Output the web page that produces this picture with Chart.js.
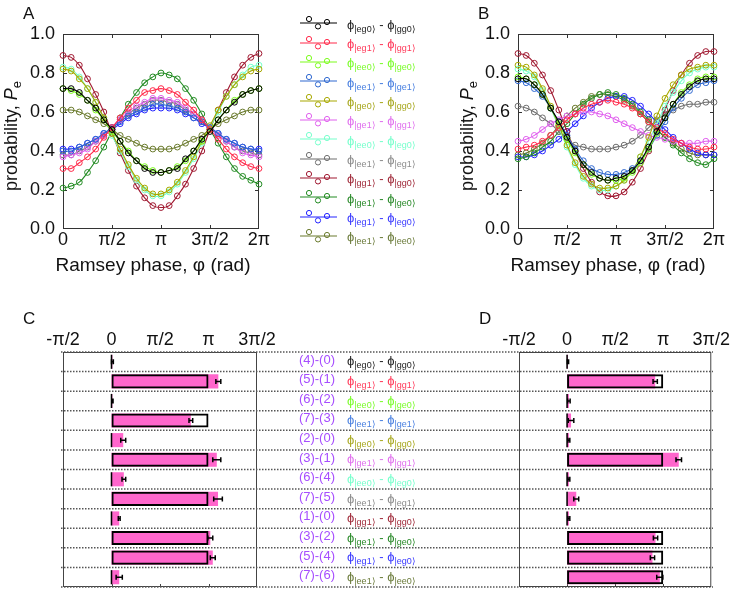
<!DOCTYPE html>
<html>
<head>
<meta charset="utf-8">
<script src="https://cdn.jsdelivr.net/npm/chart.js@4.4.1/dist/chart.umd.min.js"></script>
<style>
  body { margin: 0; background: #fff; }
  #fig { position: relative; width: 731px; height: 592px; overflow: hidden;
         font-family: "Liberation Sans", Arial, Helvetica, sans-serif; color: #111; }
  #fig canvas, .t { position: absolute; }
  .t { line-height: 1; white-space: nowrap; }
  .panel { font-size: 17px; }
  .ttl { font-size: 19px; transform: translateX(-50%); }
  .ytl { font-size: 18px; transform: translate(-50%, -50%) rotate(-90deg); }
  .ytl sub { font-size: 13px; vertical-align: -4px; line-height: 0; }
  .ph { font-size: 13px; }
  .ph sub { font-size: 9px; vertical-align: -3px; line-height: 0; }
  .rid { font-size: 13px; color: #a64dff; transform: translateX(-100%); }
</style>
</head>
<body>
<div id="fig">
  <canvas id="chartC" width="731" height="292" style="left:0;top:300px"></canvas>
  <canvas id="chartD" width="261" height="292" style="left:470px;top:300px"></canvas>
  <canvas id="chartA" width="280" height="290" style="left:0;top:0"></canvas>
  <canvas id="chartB" width="291" height="290" style="left:440px;top:0"></canvas>

  <div class="t panel" style="left:23px;top:5px">A</div>
  <div class="t panel" style="left:478px;top:5px">B</div>
  <div class="t panel" style="left:23px;top:310px">C</div>
  <div class="t panel" style="left:479px;top:310px">D</div>

  <div class="t ttl" style="left:153px;top:255px">Ramsey phase, φ (rad)</div>
  <div class="t ttl" style="left:608px;top:255px">Ramsey phase, φ (rad)</div>
  <div class="t ytl" style="left:11px;top:136px">probability, <i>P</i><sub>e</sub></div>
  <div class="t ytl" style="left:467px;top:136px">probability, <i>P</i><sub>e</sub></div>
</div>

<script>
Chart.defaults.font.family = '"Liberation Sans", Arial, Helvetica, sans-serif';
Chart.defaults.color = '#111';
Chart.defaults.animation = false;

const PI = Math.PI;
const phaseStep = PI / 12;   // Ramsey phase sampled every 15 degrees, 0..2pi

const xTickValues = [0, PI / 2, PI, 3 * PI / 2, 2 * PI];
const xTickLabels = ['0', 'π/2', 'π', '3π/2', '2π'];
const yTickValues = [0, 0.2, 0.4, 0.6, 0.8, 1.0];
const yTickLabels = ['0.0', '0.2', '0.4', '0.6', '0.8', '1.0'];
const barTickValues = [-PI / 2, 0, PI / 2, PI, 3 * PI / 2];
const barTickLabels = ['-π/2', '0', 'π/2', 'π', '3π/2'];

const rowIds = ['(4)-(0)', '(5)-(1)', '(6)-(2)', '(7)-(3)', '(2)-(0)', '(3)-(1)',
                '(6)-(4)', '(7)-(5)', '(1)-(0)', '(3)-(2)', '(5)-(4)', '(7)-(6)'];
const rowPairs = [['eg0', 'gg0'], ['eg1', 'gg1'], ['ee0', 'ge0'], ['ee1', 'ge1'],
                  ['ge0', 'gg0'], ['ge1', 'gg1'], ['ee0', 'eg0'], ['ee1', 'eg1'],
                  ['gg1', 'gg0'], ['ge1', 'ge0'], ['eg1', 'eg0'], ['ee1', 'ee0']];
const lineColors = ['#000000', '#ff2a4a', '#7cfc1c', '#2f68d0', '#a8a800', '#e060ee',
                    '#77ffcc', '#6e6e6e', '#a01830', '#228b22', '#2424ff', '#6b7b2e'];
const textColors = ['#222222', '#ff3a5a', '#7cfc2c', '#4a80e0', '#a8a820', '#e070ee',
                    '#77ffcc', '#8c8c8c', '#a02a3a', '#2a8a2a', '#3a3aff', '#6b7b3a'];

// panel A, excited-state probability vs Ramsey phase
const A_eg0_gg0 = [0.72,0.72,0.70,0.66,0.62,0.56,0.51,0.45,0.39,0.35,0.31,0.29,0.29,0.30,0.31,0.36,0.40,0.46,0.50,0.56,0.61,0.65,0.69,0.71,0.72];
const A_eg1_gg1 = [0.31,0.31,0.34,0.37,0.41,0.47,0.52,0.57,0.62,0.66,0.70,0.71,0.72,0.71,0.69,0.65,0.61,0.56,0.51,0.46,0.41,0.37,0.34,0.32,0.31];
const A_ee0_ge0 = [0.72,0.71,0.69,0.66,0.61,0.56,0.50,0.45,0.40,0.35,0.32,0.30,0.29,0.30,0.32,0.35,0.40,0.45,0.51,0.56,0.61,0.66,0.69,0.71,0.72];
const A_ee1_ge1 = [0.40,0.40,0.42,0.44,0.46,0.49,0.52,0.55,0.58,0.60,0.62,0.64,0.64,0.63,0.62,0.60,0.57,0.55,0.52,0.49,0.46,0.44,0.42,0.41,0.40];
const A_ge0_gg0 = [0.82,0.81,0.77,0.72,0.65,0.57,0.49,0.41,0.33,0.26,0.21,0.18,0.18,0.20,0.24,0.30,0.37,0.45,0.53,0.61,0.68,0.74,0.78,0.81,0.82];
const A_ge1_gg1 = [0.37,0.38,0.39,0.41,0.45,0.48,0.52,0.56,0.60,0.63,0.65,0.67,0.67,0.66,0.65,0.62,0.59,0.56,0.52,0.48,0.45,0.42,0.39,0.38,0.37];
const A_ee0_eg0 = [0.83,0.82,0.78,0.72,0.65,0.57,0.48,0.40,0.32,0.25,0.20,0.17,0.17,0.19,0.23,0.29,0.36,0.44,0.52,0.60,0.68,0.74,0.79,0.83,0.84];
const A_ee1_eg1 = [0.38,0.38,0.40,0.42,0.45,0.48,0.52,0.56,0.59,0.62,0.64,0.66,0.66,0.65,0.64,0.61,0.59,0.55,0.52,0.48,0.45,0.42,0.40,0.39,0.38];
const A_gg1_gg0 = [0.89,0.88,0.84,0.77,0.69,0.60,0.49,0.39,0.30,0.22,0.16,0.12,0.11,0.12,0.17,0.23,0.31,0.40,0.51,0.61,0.70,0.78,0.84,0.88,0.90];
const A_ge1_ge0 = [0.21,0.22,0.24,0.29,0.35,0.42,0.50,0.57,0.64,0.70,0.75,0.78,0.80,0.79,0.77,0.72,0.66,0.59,0.51,0.44,0.37,0.31,0.27,0.25,0.23];
const A_eg1_eg0 = [0.41,0.41,0.42,0.44,0.46,0.49,0.51,0.54,0.57,0.59,0.61,0.62,0.62,0.62,0.61,0.59,0.57,0.54,0.52,0.49,0.46,0.44,0.42,0.41,0.41];
const A_ee1_ee0 = [0.61,0.61,0.60,0.58,0.56,0.54,0.51,0.48,0.46,0.44,0.42,0.41,0.41,0.41,0.42,0.44,0.46,0.48,0.51,0.54,0.56,0.58,0.60,0.61,0.61];

// panel B
const B_eg0_gg0 = [0.77,0.77,0.74,0.69,0.62,0.55,0.47,0.40,0.33,0.29,0.26,0.25,0.26,0.27,0.30,0.35,0.42,0.50,0.57,0.64,0.69,0.73,0.76,0.77,0.77];
const B_eg1_gg1 = [0.41,0.42,0.43,0.45,0.48,0.52,0.56,0.59,0.62,0.64,0.65,0.66,0.65,0.64,0.62,0.59,0.55,0.52,0.49,0.46,0.44,0.42,0.41,0.41,0.42];
const B_ee0_ge0 = [0.78,0.77,0.74,0.69,0.62,0.54,0.46,0.39,0.33,0.28,0.26,0.25,0.25,0.26,0.29,0.34,0.41,0.49,0.57,0.64,0.70,0.74,0.77,0.78,0.78];
const B_ee1_ge1 = [0.76,0.75,0.72,0.68,0.62,0.55,0.48,0.41,0.35,0.31,0.29,0.28,0.28,0.29,0.31,0.35,0.41,0.48,0.55,0.62,0.67,0.71,0.74,0.75,0.76];
const B_ge0_gg0 = [0.84,0.83,0.79,0.72,0.63,0.53,0.43,0.34,0.27,0.23,0.21,0.21,0.22,0.25,0.30,0.37,0.47,0.58,0.67,0.74,0.79,0.82,0.83,0.84,0.84];
const B_ge1_gg1 = [0.45,0.46,0.48,0.51,0.54,0.56,0.58,0.59,0.60,0.60,0.59,0.58,0.56,0.54,0.52,0.50,0.48,0.47,0.46,0.45,0.44,0.44,0.44,0.45,0.45];
const B_ee0_eg0 = [0.82,0.81,0.78,0.71,0.62,0.52,0.42,0.33,0.26,0.22,0.20,0.20,0.22,0.25,0.30,0.37,0.45,0.54,0.63,0.70,0.76,0.80,0.82,0.83,0.83];
const B_ee1_eg1 = [0.63,0.62,0.60,0.57,0.54,0.50,0.46,0.43,0.42,0.41,0.41,0.41,0.42,0.43,0.45,0.48,0.52,0.56,0.59,0.61,0.63,0.64,0.64,0.65,0.65];
const B_gg1_gg0 = [0.90,0.89,0.85,0.79,0.71,0.61,0.50,0.40,0.31,0.24,0.19,0.17,0.17,0.19,0.24,0.31,0.40,0.50,0.61,0.71,0.79,0.85,0.89,0.91,0.91];
const B_ge1_ge0 = [0.36,0.37,0.39,0.42,0.45,0.50,0.54,0.59,0.64,0.67,0.69,0.70,0.69,0.67,0.64,0.60,0.56,0.51,0.47,0.43,0.39,0.36,0.34,0.33,0.36];
const B_eg1_eg0 = [0.37,0.37,0.38,0.40,0.43,0.46,0.50,0.54,0.58,0.62,0.65,0.67,0.68,0.68,0.66,0.63,0.59,0.55,0.51,0.47,0.44,0.41,0.39,0.38,0.38];
const B_ee1_ee0 = [0.38,0.39,0.41,0.44,0.48,0.53,0.58,0.62,0.65,0.68,0.69,0.69,0.68,0.66,0.63,0.59,0.55,0.51,0.47,0.44,0.41,0.39,0.38,0.38,0.38];

const curvesA = [A_eg0_gg0, A_eg1_gg1, A_ee0_ge0, A_ee1_ge1, A_ge0_gg0, A_ge1_gg1,
                 A_ee0_eg0, A_ee1_eg1, A_gg1_gg0, A_ge1_ge0, A_eg1_eg0, A_ee1_ee0];
const curvesB = [B_eg0_gg0, B_eg1_gg1, B_ee0_ge0, B_ee1_ge1, B_ge0_gg0, B_ge1_gg1,
                 B_ee0_eg0, B_ee1_eg1, B_gg1_gg0, B_ge1_ge0, B_eg1_eg0, B_ee1_ee0];

// panels C and D: measured phase differences (rad), errors, expected value
const phaseC = [0.03, 3.46, 0.03, 2.57, 0.38, 3.41, 0.40, 3.45, 0.25, 3.20, 3.28, 0.25];
const errC   = [0.03, 0.08, 0.02, 0.06, 0.08, 0.13, 0.06, 0.14, 0.03, 0.08, 0.08, 0.10];
const theoryC = [0, PI, 0, PI, 0, PI, 0, PI, 0, PI, PI, 0];
const phaseD = [0.03, 2.88, 0.06, 0.13, 0.06, 3.65, 0.06, 0.30, 0.06, 2.89, 2.79, 3.03];
const errD   = [0.02, 0.07, 0.04, 0.09, 0.03, 0.09, 0.03, 0.08, 0.03, 0.07, 0.07, 0.10];
const theoryD = [0, PI, 0, 0, 0, PI, 0, 0, 0, PI, PI, PI];

// box + inward tick marks
const framePlugin = {
  id: 'frame',
  beforeDatasetsDraw(chart, args, o) {
    const { ctx, chartArea: a, scales } = chart;
    ctx.save();
    ctx.strokeStyle = o.color || '#333';
    ctx.lineWidth = 1;
    ctx.strokeRect(a.left + 0.5, a.top + 0.5, a.right - a.left - 1, a.bottom - a.top - 1);
    const len = o.len || 4;
    ctx.beginPath();
    scales.x.ticks.forEach(t => {
      const x = Math.round(scales.x.getPixelForValue(t.value)) + 0.5;
      if (x < a.left + 2 || x > a.right - 2) return;
      ctx.moveTo(x, a.bottom); ctx.lineTo(x, a.bottom - len);
      if (o.top) { ctx.moveTo(x, a.top); ctx.lineTo(x, a.top + len); }
    });
    if (o.sides) {
      scales.y.ticks.forEach(t => {
        const y = Math.round(scales.y.getPixelForValue(t.value)) + 0.5;
        if (y < a.top + 2 || y > a.bottom - 2) return;
        ctx.moveTo(a.left, y); ctx.lineTo(a.left + len, y);
        ctx.moveTo(a.right, y); ctx.lineTo(a.right - len, y);
      });
    }
    ctx.stroke();
    ctx.restore();
  }
};

// dotted row separators running across C, the labels and D
const rowLinesPlugin = {
  id: 'rowLines',
  beforeDatasetsDraw(chart, args, o) {
    const { ctx, chartArea: a, scales: { y } } = chart;
    ctx.save();
    ctx.strokeStyle = '#555';
    ctx.lineWidth = 1.5;
    ctx.setLineDash([1.5, 1.5]);
    ctx.beginPath();
    for (let i = 0; i <= rowIds.length; i++) {
      const yy = y.getPixelForValue(i - 0.5);
      ctx.moveTo(a.left - 2, yy); ctx.lineTo(o.right, yy);
    }
    ctx.stroke();
    ctx.restore();
  }
};

const errorBarPlugin = {
  id: 'errorBars',
  afterDatasetsDraw(chart, args, o) {
    const { ctx, scales: { x } } = chart;
    const meta = chart.getDatasetMeta(o.dataset);
    ctx.save();
    ctx.strokeStyle = '#000';
    ctx.lineWidth = 1.5;
    ctx.beginPath();
    meta.data.forEach((bar, i) => {
      const v = o.values[i], e = o.errors[i];
      const x1 = x.getPixelForValue(v - e), x2 = x.getPixelForValue(v + e), y = bar.y;
      ctx.moveTo(x1, y); ctx.lineTo(x2, y);
      ctx.moveTo(x1, y - 2.5); ctx.lineTo(x1, y + 2.5);
      ctx.moveTo(x2, y - 2.5); ctx.lineTo(x2, y + 2.5);
    });
    ctx.stroke();
    ctx.restore();
  }
};

function curveChart(id, curves, padLeft, padRight) {
  return new Chart(document.getElementById(id), {
    type: 'line',
    data: {
      datasets: curves.map((vals, k) => ({
        data: vals.map((v, i) => ({ x: i * phaseStep, y: v })),
        borderColor: lineColors[k],
        borderWidth: 1.1,
        tension: 0.4,
        pointRadius: 2.9,
        pointBorderWidth: 1,
        pointBorderColor: lineColors[k],
        pointBackgroundColor: 'rgba(0,0,0,0)',
        clip: 5
      }))
    },
    options: {
      responsive: false,
      events: [],
      layout: { padding: { left: padLeft, right: padRight, top: 34, bottom: 31 } },
      plugins: {
        legend: { display: false },
        tooltip: { enabled: false },
        frame: { color: '#333', len: 4, top: true, sides: true }
      },
      scales: {
        x: {
          type: 'linear', min: 0, max: 2 * PI,
          grid: { display: false, drawTicks: false },
          border: { display: false },
          afterBuildTicks: s => { s.ticks = xTickValues.map(v => ({ value: v })); },
          afterFit: s => { s.height = 30; },
          ticks: { callback: (v, i) => xTickLabels[i], font: { size: 18 }, padding: 0,
                   autoSkip: false, maxRotation: 0 }
        },
        y: {
          min: 0, max: 1,
          grid: { display: false, drawTicks: false },
          border: { display: false },
          afterBuildTicks: s => { s.ticks = yTickValues.map(v => ({ value: v })); },
          afterFit: s => { s.width = 50; },
          ticks: { callback: (v, i) => yTickLabels[i], font: { size: 18 }, padding: 8 }
        }
      }
    },
    plugins: [framePlugin]
  });
}

function phaseBarChart(id, measured, errors, theory, pad, extra) {
  return new Chart(document.getElementById(id), {
    type: 'bar',
    data: {
      labels: rowIds,
      datasets: [
        {
          // expected value: outlined box up to pi, thin black mark at 0
          data: theory.map(v => v === 0 ? [-0.025, 0.025] : [0, v]),
          backgroundColor: theory.map(v => v === 0 ? '#000' : 'rgba(0,0,0,0)'),
          borderColor: '#000',
          borderWidth: theory.map(v => v === 0 ? 0 : 2),
          borderSkipped: false,
          grouped: false,
          barPercentage: 0.72,
          categoryPercentage: 1,
          order: 0
        },
        {
          data: measured,
          backgroundColor: '#ff66cc',
          borderWidth: 0,
          grouped: false,
          barPercentage: 0.72,
          categoryPercentage: 1,
          order: 1
        }
      ]
    },
    options: {
      indexAxis: 'y',
      responsive: false,
      events: [],
      layout: { padding: pad },
      plugins: {
        legend: { display: false },
        tooltip: { enabled: false },
        frame: { color: '#444', len: 3 },
        rowLines: { right: 713 },
        errorBars: { dataset: 1, values: measured, errors: errors }
      },
      scales: {
        x: {
          type: 'linear', position: 'top', min: -PI / 2, max: 3 * PI / 2,
          grid: { display: false, drawTicks: false },
          border: { display: false },
          afterBuildTicks: s => { s.ticks = barTickValues.map(v => ({ value: v })); },
          afterFit: s => { s.height = 30; },
          ticks: { callback: (v, i) => barTickLabels[i], font: { size: 18 }, padding: 1,
                   autoSkip: false, maxRotation: 0 }
        },
        y: { display: false }
      }
    },
    plugins: [framePlugin].concat(extra, [errorBarPlugin])
  });
}

curveChart('chartA', curvesA, 13, 21);
curveChart('chartB', curvesB, 28, 17);
const chartC = phaseBarChart('chartC', phaseC, errC, theoryC,
  { left: 63, right: 474, top: 22, bottom: 5 }, [rowLinesPlugin]);
phaseBarChart('chartD', phaseD, errD, theoryD,
  { left: 49, right: 19, top: 22, bottom: 5 }, []);

// legend and row labels
const fig = document.getElementById('fig');
function phiLabel(p, color, left, top) {
  const d = document.createElement('div');
  d.className = 't ph';
  d.style.left = left + 'px';
  d.style.top = top + 'px';
  d.style.color = color;
  d.innerHTML = 'ϕ<sub>|' + p[0] + '⟩</sub> - ϕ<sub>|' + p[1] + '⟩</sub>';
  fig.appendChild(d);
}

rowPairs.forEach((p, i) => {
  const y = 23.3 + i * 19.34;
  const c = lineColors[i];
  const svg = document.createElementNS('http://www.w3.org/2000/svg', 'svg');
  svg.setAttribute('class', 't');
  svg.setAttribute('width', '40');
  svg.setAttribute('height', '14');
  svg.style.left = '299px';
  svg.style.top = (y - 7) + 'px';
  svg.innerHTML =
    '<line x1="1" y1="7" x2="38" y2="7" stroke="' + c + '" stroke-width="1.2"/>' +
    '<circle cx="10" cy="3" r="2.6" fill="none" stroke="' + c + '"/>' +
    '<circle cx="19" cy="10.4" r="2.6" fill="none" stroke="' + c + '"/>' +
    '<circle cx="28" cy="6" r="2.6" fill="none" stroke="' + c + '"/>';
  fig.appendChild(svg);
  phiLabel(p, textColors[i], 347, y - 5.8);
});

const rowScale = chartC.scales.y;
rowIds.forEach((id, i) => {
  const yc = 300 + rowScale.getPixelForValue(i);
  const d = document.createElement('div');
  d.className = 't rid';
  d.style.left = '335px';
  d.style.top = (yc - 9.1) + 'px';
  d.textContent = id;
  fig.appendChild(d);
  phiLabel(rowPairs[i], textColors[i], 347, yc - 7.3);
});
</script>
</body>
</html>
